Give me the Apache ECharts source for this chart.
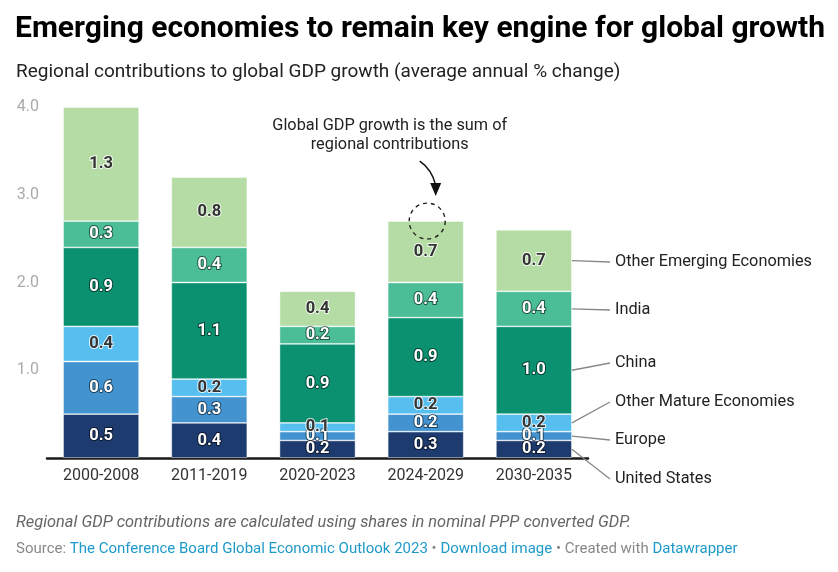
<!DOCTYPE html>
<html>
<head>
<meta charset="utf-8">
<script src="https://cdn.jsdelivr.net/npm/echarts@6/dist/echarts.min.js"></script>
<style>
html,body{margin:0;padding:0;background:#fff;}
#chart{width:838px;height:572px;}
</style>
</head>
<body>
<div id="chart"></div>
<script>
const categories = ['2000-2008', '2011-2019', '2020-2023', '2024-2029', '2030-2035'];
const unitedStates = [0.5, 0.4, 0.2, 0.3, 0.2];
const europe = [0.6, 0.3, 0.1, 0.2, 0.1];
const otherMature = [0.4, 0.2, 0.1, 0.2, 0.2];
const china = [0.9, 1.1, 0.9, 0.9, 1.0];
const india = [0.3, 0.4, 0.2, 0.4, 0.4];
const otherEmerging = [1.3, 0.8, 0.4, 0.7, 0.7];
const yTicks = [0, 1, 2, 3, 4];

const seriesDefs = [
  {name: 'United States', data: unitedStates, color: '#1d3b6f', dark: true},
  {name: 'Europe', data: europe, color: '#4393d0', dark: true},
  {name: 'Other Mature Economies', data: otherMature, color: '#57bff0', dark: false},
  {name: 'China', data: china, color: '#0b9170', dark: true},
  {name: 'India', data: india, color: '#4bbe98', dark: true},
  {name: 'Other Emerging Economies', data: otherEmerging, color: '#b4dca4', dark: false}
];
// label y positions (px) for the right-side legend labels
const labelY = {
  'Other Emerging Economies': 262,
  'India': 310,
  'China': 363,
  'Other Mature Economies': 402,
  'Europe': 440,
  'United States': 479
};

const FONT = 'Roboto, "Noto Sans", sans-serif';
const chart = echarts.init(document.getElementById('chart'));

const series = seriesDefs.map(s => ({
  name: s.name,
  type: 'bar',
  stack: 'total',
  data: s.data,
  barWidth: 76,
  itemStyle: {color: s.color, borderColor: 'rgba(255,255,255,0.55)', borderWidth: 0.8},
  label: {
    show: true,
    position: 'inside',
    formatter: p => p.value.toFixed(1),
    fontFamily: FONT,
    fontWeight: 'bold',
    fontSize: 16.5,
    color: s.dark ? '#ffffff' : '#333333',
    textBorderColor: s.dark ? 'rgba(0,0,0,0.55)' : 'rgba(255,255,255,0.8)',
    textBorderWidth: 2
  },
  emphasis: {disabled: true}
}));

chart.setOption({
  animation: false,
  textStyle: {fontFamily: FONT},
  grid: {left: 47, right: 250, top: 107, bottom: 114, containLabel: false},
  xAxis: {
    type: 'category',
    data: categories,
    axisLine: {show: true, lineStyle: {color: '#1a1a1a', width: 2.5}},
    axisTick: {show: false},
    axisLabel: {color: '#333', fontSize: 16, fontFamily: FONT, margin: 10}
  },
  yAxis: {
    type: 'value',
    min: yTicks[0],
    max: yTicks[yTicks.length - 1],
    interval: 1,
    splitLine: {show: false},
    axisLine: {show: false},
    axisTick: {show: false},
    axisLabel: {
      color: '#aaaaaa', fontSize: 16, fontFamily: FONT, margin: 8,
      formatter: v => v === 0 ? '' : v.toFixed(1)
    }
  },
  series: series,
  title: [
    {text: 'Emerging economies to remain key engine for global growth', left: 15, top: 14, padding: 0,
     textStyle: {fontFamily: FONT, fontWeight: 'bold', fontSize: 30, color: '#000'}},
    {text: 'Regional contributions to global GDP growth (average annual % change)', left: 16, top: 63, padding: 0,
     textStyle: {fontFamily: FONT, fontWeight: 'normal', fontSize: 19, color: '#222'}}
  ]
});

function buildGraphics() {
  const last = categories.length - 1;
  const lastCat = categories[last];
  const graphics = [];
  const cx = chart.convertToPixel({xAxisIndex: 0}, lastCat);
  const barRight = cx + 38;
  let cum = 0;
  seriesDefs.forEach(s => {
    const v = s.data[last];
    const mid = cum + v / 2;
    cum += v;
    const y0 = chart.convertToPixel({yAxisIndex: 0}, mid);
    const y1 = labelY[s.name];
    graphics.push({
      type: 'line', z: 100, shape: {x1: barRight, y1: y0, x2: 610, y2: y1},
      style: {stroke: '#888', lineWidth: 1.3}, silent: true
    });
    graphics.push({
      type: 'text', z: 100, x: 615, y: y1,
      style: {text: s.name, fontFamily: FONT, fontSize: 16.3, fill: '#222', verticalAlign: 'middle', align: 'left'}
    });
  });
  // annotation on 2024-2029 total
  const ai = 3;
  const total = seriesDefs.reduce((a, s) => a + s.data[ai], 0);
  const ax = chart.convertToPixel({xAxisIndex: 0}, categories[ai]);
  const ay = chart.convertToPixel({yAxisIndex: 0}, total);
  graphics.push({
    type: 'circle', z: 100, shape: {cx: ax + 1.5, cy: ay, r: 18},
    style: {fill: 'none', stroke: '#222', lineWidth: 1.4, lineDash: [4, 4]}
  });
  graphics.push({
    type: 'bezierCurve', z: 100,
    shape: {x1: ax - 6, y1: ay - 60, cpx1: ax + 6, cpy1: ay - 52, x2: ax + 10, y2: ay - 36},
    style: {stroke: '#111', lineWidth: 1.5, fill: 'none'}
  });
  graphics.push({
    type: 'polygon', z: 100,
    shape: {points: [[ax + 4.5, ay - 38], [ax + 15.5, ay - 38], [ax + 10, ay - 25]]},
    style: {fill: '#111'}
  });
  graphics.push({
    type: 'text', z: 100, x: ax - 36, y: ay - 86,
    style: {text: 'Global GDP growth is the sum of\nregional contributions', fontFamily: FONT, fontSize: 16.3,
            fill: '#222', align: 'center', verticalAlign: 'middle', lineHeight: 19}
  });
  // footer
  graphics.push({
    type: 'text', x: 16, y: 523,
    style: {text: 'Regional GDP contributions are calculated using shares in nominal PPP converted GDP.',
            fontFamily: FONT, fontStyle: 'italic', fontSize: 16.4, fill: '#666', verticalAlign: 'middle'}
  });
  graphics.push({
    type: 'text', x: 16, y: 549,
    style: {
      text: '{g|Source: }{b|The Conference Board Global Economic Outlook 2023}{g| • }{b|Download image}{g| • Created with }{b|Datawrapper}',
      fontFamily: FONT, fontSize: 15, verticalAlign: 'middle',
      rich: {
        g: {fill: '#888', fontFamily: FONT, fontSize: 15},
        b: {fill: '#1d9ac9', fontFamily: FONT, fontSize: 15}
      }
    }
  });
  chart.setOption({graphic: graphics});
}
buildGraphics();
</script>
</body>
</html>
